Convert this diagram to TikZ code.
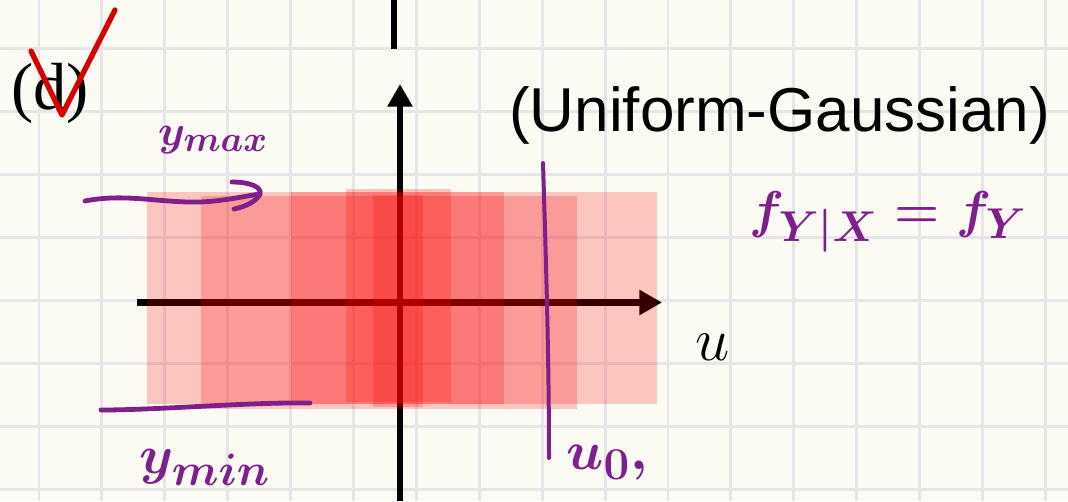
\documentclass[tikz,border=0pt]{standalone}
\usepackage{fontspec}
\newfontfamily\lblserif{Liberation Serif}
\newfontfamily\lblsans{Liberation Sans}
\usetikzlibrary{arrows.meta}
\definecolor{paper}{RGB}{251,251,244}
\definecolor{gridc}{RGB}{230,230,233}
\definecolor{hand}{RGB}{126,31,140}
\definecolor{checkred}{RGB}{214,0,0}
\tikzset{
  gridline/.style={draw=gridc, line width=2.2pt},
  axisline/.style={draw=black, line width=5.2pt},
  band/.style={fill=red, fill opacity=0.21, draw=none},
  handline/.style={draw=hand, line width=3.6pt, line cap=round, line join=round},
  handtext/.style={text=hand, inner sep=0pt, font=\fontsize{24.88}{30}\selectfont\boldmath},
  bigmath/.style={inner sep=0pt, font=\fontsize{24.88}{30}\selectfont},
  checkline/.style={draw=checkred, line width=4pt, line cap=round, line join=round},
}
\begin{document}
\begin{tikzpicture}[x=0.75pt,y=-0.75pt]
\useasboundingbox (0,0) rectangle (1068,501);
\fill[paper] (0,0) rectangle (1068,501);
% grid
\foreach \i in {0,...,16} \draw[gridline] ({39+62.9*\i},0) -- ({39+62.9*\i},501);
\foreach \j in {0,...,7} \draw[gridline] (0,{48.5+63*\j}) -- (1068,{48.5+63*\j});
% axes
\coordinate (xs) at (137,302.5);
\coordinate (xe) at (662,302.5);
\coordinate (ys) at (400,501);
\coordinate (ye) at (400,84);
\coordinate (ts) at (394,0);
\coordinate (te) at (394,49);
\draw[axisline,-{Triangle[length=17pt,width=18pt]}] (xs) -- (xe);
\draw[axisline,-{Triangle[length=17pt,width=18pt]}] (ys) -- (ye);
\draw[axisline] (ts) -- (te);
% red bands
\fill[band] (147,192.3) rectangle (657,404.3);
\fill[band] (200.5,196) rectangle (577,409);
\fill[band] (290.5,192.3) rectangle (504,404.3);
\fill[band] (346,189.3) rectangle (451,401.7);
\fill[band] (373,194.5) rectangle (422.5,406.7);
% handwritten strokes
\coordinate (ma) at (85,201);
\coordinate (mb) at (260,194);
\draw[handline] (ma) .. controls (125,193) and (160,203) .. (200,202) .. controls (225,201) and (245,196) .. (mb);
\draw[handline] (232,182) .. controls (250,182) and (262,187) .. (mb) .. controls (257,201) and (245,207) .. (234,209);
\coordinate (na) at (101,410);
\coordinate (nb) at (310,403);
\draw[handline] (na) .. controls (160,410) and (250,402) .. (nb);
\coordinate (ua) at (543,163);
\coordinate (ub) at (549,458);
\draw[handline, line width=3pt] (ua) .. controls (546,260) and (549,360) .. (ub);
% check mark
\coordinate (ca) at (31,51);
\coordinate (cb) at (62,115);
\coordinate (cc) at (115,10);
% texts
\node[anchor=base west, inner sep=0pt, font=\lblserif\fontsize{50}{60}\selectfont] (dl) at (11,109) {(d)};
\draw[checkline] (ca) -- (cb) -- (cc);
\node[anchor=base west, inner sep=0pt, font=\lblsans\fontsize{46.5}{56}\selectfont] (title) at (509,131) {(Uniform-Gaussian)};
\node[bigmath, scale=1.85] (ul) at (713,347) {$u$};
\node[handtext, scale=1.3] (ymaxl) at (213,140) {$y_{max}$};
\node[handtext, scale=1.64] (yminl) at (205,467) {$y_{min}$};
\node[handtext, scale=1.65] (u0l) at (607,463) {$u_0,$};
\node[handtext, scale=1.56] (fl) at (888,222) {$f_{Y|X}=f_Y$};
\end{tikzpicture}
\end{document}
